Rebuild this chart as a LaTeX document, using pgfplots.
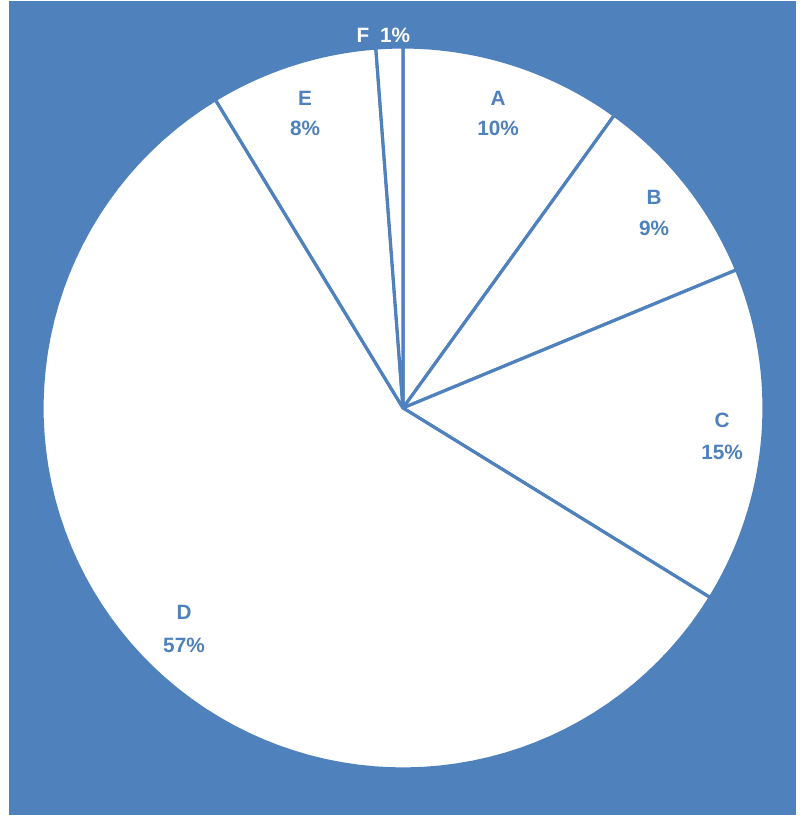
\documentclass[border=0pt]{standalone}
\usepackage{pgfplots}
\pgfplotsset{compat=1.18}
\usepackage{fontspec}
\setmainfont{Liberation Sans}
\definecolor{pieblue}{HTML}{4F81BD}
% slice values (percent), clockwise from 12 o'clock
\def\vA{9.95}\def\vB{8.8}\def\vC{15.05}\def\vD{57.5}\def\vE{7.5}\def\vF{1.2}
\pgfmathsetmacro{\aA}{0}
\pgfmathsetmacro{\aB}{\aA+3.6*\vA}
\pgfmathsetmacro{\aC}{\aB+3.6*\vB}
\pgfmathsetmacro{\aD}{\aC+3.6*\vC}
\pgfmathsetmacro{\aE}{\aD+3.6*\vD}
\pgfmathsetmacro{\aF}{\aE+3.6*\vE}
\pgfmathsetmacro{\aG}{\aF+3.6*\vF}
\def\cx{403}\def\cy{411}\def\rr{361}
\newcommand{\slice}[2]{%
  \addplot[fill=white, draw=pieblue, line width=0.9pt, line join=round, domain=#1:#2, samples=80, variable=\t]
    ({\cx+\rr*sin(t)}, {\cy+\rr*cos(t)}) -- (axis cs:\cx,\cy) -- cycle;}
\begin{document}
\begin{tikzpicture}
\begin{axis}[scale only axis, width=8.05cm, height=8.19cm,
  xmin=0, xmax=805, ymin=0, ymax=819, hide axis, clip=false]
\path[fill=white] (axis cs:0,0) rectangle (axis cs:805,819);
\path[fill=pieblue] (axis cs:9,4) rectangle (axis cs:796,818);
\slice{\aA}{\aB}
\slice{\aB}{\aC}
\slice{\aC}{\aD}
\slice{\aD}{\aE}
\slice{\aE}{\aF}
\slice{\aF}{\aG}
\begin{scope}[every node/.style={font=\fontsize{5.9}{7}\selectfont\bfseries, text=pieblue, inner sep=0pt}]
\node at (axis cs:498,721) {A};
\node at (axis cs:498,691) {10\%};
\node at (axis cs:654,622) {B};
\node at (axis cs:654,591) {9\%};
\node at (axis cs:722,399) {C};
\node at (axis cs:722,367) {15\%};
\node at (axis cs:184,207) {D};
\node at (axis cs:184,174) {57\%};
\node at (axis cs:305,721) {E};
\node at (axis cs:305,691) {8\%};
\node[text=white] at (axis cs:363,784) {F};
\node[text=white] at (axis cs:395,784) {1\%};
\end{scope}
\end{axis}
\end{tikzpicture}
\end{document}
